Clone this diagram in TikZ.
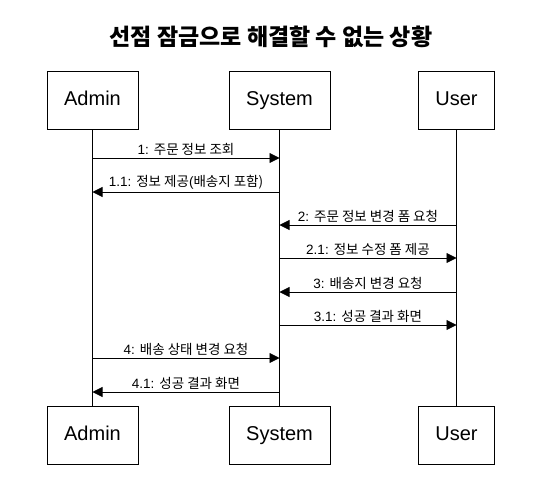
\documentclass[tikz,border=0pt]{standalone}
\usepackage{fontspec}
\setmainfont{Liberation Sans}
\newfontfamily\kr{Noto Sans CJK KR}
\usetikzlibrary{arrows.meta}
\begin{document}
\begin{tikzpicture}[x=1pt,y=-1pt,
  actor/.style={draw,line width=0.8pt,minimum height=58pt,font=\fontsize{20}{22}\selectfont,inner sep=0pt,text height=14.5pt,text depth=4pt},
  life/.style={line width=0.8pt},
  msg/.style={line width=0.8pt,-{Triangle[length=10pt,width=10pt]}},
  lbl/.style={anchor=south,inner sep=0pt,yshift=2pt,font=\fontsize{13.5}{15}\selectfont}]
\useasboundingbox (0,0) rectangle (541,477);
\node[font=\kr\bfseries\fontsize{23}{26}\selectfont] (title) at (271,37) {선점 잠금으로 해결할 수 없는 상황};
\node[actor,minimum width=91pt] (at) at (92.5,100.5) {Admin};
\node[actor,minimum width=101pt] (st) at (279.5,100.5) {System};
\node[actor,minimum width=76pt] (ut) at (456.5,100.5) {User};
\node[actor,minimum width=91pt] (ab) at (92.5,435) {Admin};
\node[actor,minimum width=101pt] (sb) at (279.5,435) {System};
\node[actor,minimum width=76pt] (ub) at (456.5,435) {User};
\draw[life] (at.south) -- (ab.north);
\draw[life] (st.south) -- (sb.north);
\draw[life] (ut.south) -- (ub.north);
\draw[msg] (at.south |- 0,158) -- node[lbl]{1: {\kr 주문 정보 조회}} (st.south |- 0,158);
\draw[msg] (st.south |- 0,192) -- node[lbl]{1.1: {\kr 정보 제공}(\kr 배송지 포함)} (at.south |- 0,192);
\draw[msg] (ut.south |- 0,225) -- node[lbl]{2: {\kr 주문 정보 변경 폼 요청}} (st.south |- 0,225);
\draw[msg] (st.south |- 0,258) -- node[lbl]{2.1: {\kr 정보 수정 폼 제공}} (ut.south |- 0,258);
\draw[msg] (ut.south |- 0,292) -- node[lbl]{3: {\kr 배송지 변경 요청}} (st.south |- 0,292);
\draw[msg] (st.south |- 0,325) -- node[lbl]{3.1: {\kr 성공 결과 화면}} (ut.south |- 0,325);
\draw[msg] (at.south |- 0,358) -- node[lbl]{4: {\kr 배송 상태 변경 요청}} (st.south |- 0,358);
\draw[msg] (st.south |- 0,392) -- node[lbl]{4.1: {\kr 성공 결과 화면}} (at.south |- 0,392);
\end{tikzpicture}
\end{document}
